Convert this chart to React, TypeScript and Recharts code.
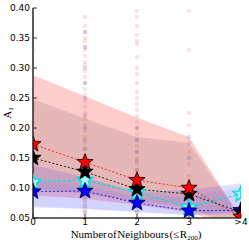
import React from 'react';
import {
  ComposedChart, Area, Line, Scatter, XAxis, YAxis,
} from 'recharts';

// neighbour bins
const xs = [0, 1, 2, 3, 4];
const xLabels = ['0', '1', '2', '3', '>4'];

// median A1 per bin
const redMed = [0.173, 0.143, 0.113, 0.1, 0.052];
const blackMed = [0.15, 0.127, 0.098, 0.09, 0.06];
const cyanMed = [0.11, 0.113, 0.093, 0.068, 0.09];
const blueMed = [0.094, 0.095, 0.075, 0.062, 0.063];

// spread bands
const redHi = [0.288, 0.253, 0.217, 0.185, 0.05];
const redLo = [0.088, 0.082, 0.072, 0.06, 0.03];
const blackHi = [0.248, 0.216, 0.185, 0.175, 0.05];
const blackLo = [0.1, 0.09, 0.078, 0.068, 0.03];
const cyanHi = [0.138, 0.118, 0.093, 0.097, 0.108];
const cyanLo = [0.068, 0.065, 0.06, 0.055, 0.06];
const blueHi = [0.112, 0.104, 0.085, 0.086, 0.1];
const blueLo = [0.07, 0.066, 0.06, 0.055, 0.056];

// individual galaxies (faint clouds)
const redCloud1 = [0.385, 0.37, 0.36, 0.35, 0.345, 0.335, 0.33, 0.32, 0.31, 0.305, 0.295, 0.285, 0.275, 0.265, 0.255, 0.245, 0.235, 0.225, 0.215, 0.205, 0.195, 0.185, 0.175, 0.165, 0.155, 0.145, 0.135, 0.125, 0.115, 0.105, 0.095, 0.085, 0.075, 0.065, 0.058];
const blueCloud1 = [0.36, 0.335, 0.3, 0.275, 0.25, 0.22, 0.2, 0.18, 0.165, 0.15, 0.14, 0.13, 0.12, 0.11, 0.1, 0.09, 0.08, 0.07, 0.06];
const redCloud2 = [0.395, 0.385, 0.37, 0.355, 0.345, 0.34, 0.318, 0.3, 0.29, 0.275, 0.26, 0.25, 0.24, 0.23, 0.22, 0.21, 0.2, 0.19, 0.18, 0.17, 0.16, 0.15, 0.14, 0.13, 0.12, 0.11, 0.1, 0.09, 0.08, 0.07, 0.06];
const blueCloud2 = [0.2, 0.18, 0.16, 0.145, 0.13, 0.12, 0.11, 0.1, 0.09, 0.08, 0.07, 0.06];
const redCloud3 = [0.395, 0.33, 0.225, 0.205, 0.175, 0.16, 0.14, 0.12, 0.1, 0.08];
const blueCloud3 = [0.185, 0.15, 0.09, 0.07];
const redCloud0 = [0.33, 0.3, 0.27, 0.24, 0.21, 0.19, 0.17, 0.13];

const rows = xs.map((x, i) => ({
  x,
  red: redMed[i],
  black: blackMed[i],
  cyan: cyanMed[i],
  blue: blueMed[i],
  redBand: [redLo[i], redHi[i]],
  blackBand: [blackLo[i], blackHi[i]],
  cyanBand: [cyanLo[i], cyanHi[i]],
  blueBand: [blueLo[i], blueHi[i]],
}));

const pts = (x: number, ys: number[]) => ys.map((y) => ({ x, y }));
const redCloud = [...pts(0, redCloud0), ...pts(1, redCloud1), ...pts(2, redCloud2), ...pts(3, redCloud3)];
const blueCloud = [...pts(1, blueCloud1), ...pts(2, blueCloud2), ...pts(3, blueCloud3)];

const yMajor = [0.05, 0.1, 0.15, 0.2, 0.25, 0.3, 0.35, 0.4];
const yMinor = [0.06, 0.07, 0.08, 0.09, 0.11, 0.12, 0.13, 0.14, 0.16, 0.17, 0.18, 0.19, 0.21, 0.22, 0.23, 0.24, 0.26, 0.27, 0.28, 0.29, 0.31, 0.32, 0.33, 0.34, 0.36, 0.37, 0.38, 0.39];
const xMinor = [0.2, 0.4, 0.6, 0.8, 1.2, 1.4, 1.6, 1.8, 2.2, 2.4, 2.6, 2.8, 3.2, 3.4, 3.6, 3.8];

// chart layout
const W = 249, H = 243;
const M = { top: 8, right: 8, left: 0, bottom: 0 };
const Y_AXIS_W = 33, X_AXIS_H = 25;
const BOX = { x0: M.left + Y_AXIS_W, y0: M.top, x1: W - M.right, y1: H - M.bottom - X_AXIS_H };

type P = [number, number];
// cut a polygon to the axes box (Sutherland-Hodgman), the markers in the original are clipped there
const clipPoly = (poly: P[]): P[] => {
  const edges: [(p: P) => boolean, (a: P, b: P) => P][] = [
    [(p) => p[0] >= BOX.x0, (a, b) => { const t = (BOX.x0 - a[0]) / (b[0] - a[0]); return [BOX.x0, a[1] + t * (b[1] - a[1])]; }],
    [(p) => p[0] <= BOX.x1, (a, b) => { const t = (BOX.x1 - a[0]) / (b[0] - a[0]); return [BOX.x1, a[1] + t * (b[1] - a[1])]; }],
    [(p) => p[1] >= BOX.y0, (a, b) => { const t = (BOX.y0 - a[1]) / (b[1] - a[1]); return [a[0] + t * (b[0] - a[0]), BOX.y0]; }],
    [(p) => p[1] <= BOX.y1, (a, b) => { const t = (BOX.y1 - a[1]) / (b[1] - a[1]); return [a[0] + t * (b[0] - a[0]), BOX.y1]; }],
  ];
  let out = poly;
  for (const [inside, cut] of edges) {
    const src = out;
    out = [];
    for (let i = 0; i < src.length; i++) {
      const cur = src[i];
      const prev = src[(i + src.length - 1) % src.length];
      if (inside(cur)) {
        if (!inside(prev)) out.push(cut(prev, cur));
        out.push(cur);
      } else if (inside(prev)) {
        out.push(cut(prev, cur));
      }
    }
    if (!out.length) break;
  }
  return out;
};

const makeStar = (fill: string, stroke: string, sw = 0.8) => (props: any) => {
  const { cx, cy } = props;
  if (cx == null || cy == null) return <g />;
  const R = 8.5, r = 3.6;
  const p: P[] = [];
  for (let k = 0; k < 10; k++) {
    const a = -Math.PI / 2 + (k * Math.PI) / 5;
    const rr = k % 2 === 0 ? R : r;
    p.push([cx + rr * Math.cos(a), cy + rr * Math.sin(a)]);
  }
  const c = clipPoly(p);
  if (!c.length) return <g />;
  return <polygon points={c.map((q) => `${q[0]},${q[1]}`).join(' ')} fill={fill} stroke={stroke} strokeWidth={sw} />;
};

const dot = (fill: string, op: number) => (props: any) => {
  const { cx, cy } = props;
  if (cx == null || cy == null) return <g />;
  return <circle cx={cx} cy={cy} r={2.3} fill={fill} fillOpacity={op} />;
};

const tickFont = { fontFamily: 'DejaVu Sans', fontSize: 9, fill: '#000' };
const axisLine = { stroke: '#333', strokeWidth: 1.6 };

export default function App() {
  return (
    <div style={{ position: 'fixed', left: 0, top: 0, width: W, height: H, background: '#fff' }}>
      <ComposedChart width={W} height={H} data={rows} margin={M}>
        <Area xAxisId="b" yAxisId="l" dataKey="redBand" type="linear" stroke="none" fill="#ff0000" fillOpacity={0.2} isAnimationActive={false} />
        <Area xAxisId="b" yAxisId="l" dataKey="blackBand" type="linear" stroke="none" fill="#000000" fillOpacity={0.1} isAnimationActive={false} />
        <Area xAxisId="b" yAxisId="l" dataKey="cyanBand" type="linear" stroke="none" fill="#2020ff" fillOpacity={0.14} isAnimationActive={false} />
        <Area xAxisId="b" yAxisId="l" dataKey="blueBand" type="linear" stroke="none" fill="#6060ff" fillOpacity={0.1} isAnimationActive={false} />

        <Scatter xAxisId="b" yAxisId="l" data={redCloud} dataKey="y" shape={dot('#e04040', 0.15)} isAnimationActive={false} />
        <Scatter xAxisId="b" yAxisId="l" data={blueCloud} dataKey="y" shape={dot('#4040c0', 0.18)} isAnimationActive={false} />

        <Line xAxisId="b" yAxisId="l" dataKey="red" type="linear" stroke="#ff2020" strokeWidth={1} strokeDasharray="2 2" dot={false} isAnimationActive={false} />
        <Line xAxisId="b" yAxisId="l" dataKey="black" type="linear" stroke="#202020" strokeWidth={1} strokeDasharray="2 2" dot={false} isAnimationActive={false} />
        <Line xAxisId="b" yAxisId="l" dataKey="cyan" type="linear" stroke="#00e0e0" strokeWidth={1.2} strokeDasharray="3 2" dot={false} isAnimationActive={false} />
        <Line xAxisId="b" yAxisId="l" dataKey="blue" type="linear" stroke="#3030ff" strokeWidth={1.2} strokeDasharray="2 2" dot={false} isAnimationActive={false} />

        <Scatter xAxisId="b" yAxisId="l" data={rows} dataKey="cyan" shape={makeStar('#b0f0ff', '#00e0e0', 1.4)} isAnimationActive={false} />
        <Scatter xAxisId="b" yAxisId="l" data={rows} dataKey="blue" shape={makeStar('#0000ff', '#000033')} isAnimationActive={false} />
        <Scatter xAxisId="b" yAxisId="l" data={rows} dataKey="black" shape={makeStar('#000000', '#000000')} isAnimationActive={false} />
        <Scatter xAxisId="b" yAxisId="l" data={rows} dataKey="red" shape={makeStar('#ff0000', '#000000')} isAnimationActive={false} />

        <XAxis xAxisId="b" dataKey="x" type="number" domain={[0, 4]} ticks={xs} allowDataOverflow
          tickFormatter={(v: number) => xLabels[xs.indexOf(v)] ?? ''}
          tick={tickFont} tickSize={-4} tickMargin={5} height={X_AXIS_H}
          axisLine={axisLine} tickLine={{ stroke: '#333' }} />
        <XAxis xAxisId="bm" dataKey="x" type="number" domain={[0, 4]} ticks={xMinor} tickFormatter={() => ''}
          tickSize={-2} height={0} axisLine={false} tickLine={{ stroke: '#333' }} />
        <XAxis xAxisId="t" dataKey="x" type="number" orientation="top" domain={[0, 4]} ticks={xs} tickFormatter={() => ''}
          tickSize={-4} height={0} axisLine={axisLine} tickLine={{ stroke: '#333' }} />
        <XAxis xAxisId="tm" dataKey="x" type="number" orientation="top" domain={[0, 4]} ticks={xMinor} tickFormatter={() => ''}
          tickSize={-2} height={0} axisLine={false} tickLine={{ stroke: '#333' }} />
        <YAxis yAxisId="l" type="number" domain={[0.05, 0.4]} ticks={yMajor} allowDataOverflow
          tickFormatter={(v: number) => v.toFixed(2)} tick={tickFont} tickSize={-4} tickMargin={7} width={Y_AXIS_W}
          axisLine={axisLine} tickLine={{ stroke: '#333' }} />
        <YAxis yAxisId="lm" type="number" domain={[0.05, 0.4]} ticks={yMinor} allowDataOverflow tickFormatter={() => ''}
          tickSize={-2} width={0} axisLine={false} tickLine={{ stroke: '#333' }} />
        <YAxis yAxisId="r" type="number" orientation="right" domain={[0.05, 0.4]} ticks={yMajor} allowDataOverflow tickFormatter={() => ''}
          tickSize={-4} width={0} axisLine={axisLine} tickLine={{ stroke: '#333' }} />
        <YAxis yAxisId="rm" type="number" orientation="right" domain={[0.05, 0.4]} ticks={yMinor} allowDataOverflow tickFormatter={() => ''}
          tickSize={-2} width={0} axisLine={false} tickLine={{ stroke: '#333' }} />
      </ComposedChart>
      <svg width={W} height={H} style={{ position: 'absolute', left: 0, top: 0, pointerEvents: 'none' }}>
        <text x={136} y={238} textAnchor="middle" fontFamily="Liberation Serif" fontSize={11} wordSpacing={-2} fill="#000">
          Number of Neighbours (≤ R<tspan fontSize={7} dy={2}>200</tspan><tspan dy={-2}>)</tspan>
        </text>
        <text x={11} y={113} transform="rotate(-90 11 113)" textAnchor="middle" fontFamily="Liberation Serif" fontSize={11} fill="#000">
          A<tspan fontSize={7} dy={2}>1</tspan>
        </text>
      </svg>
    </div>
  );
}
